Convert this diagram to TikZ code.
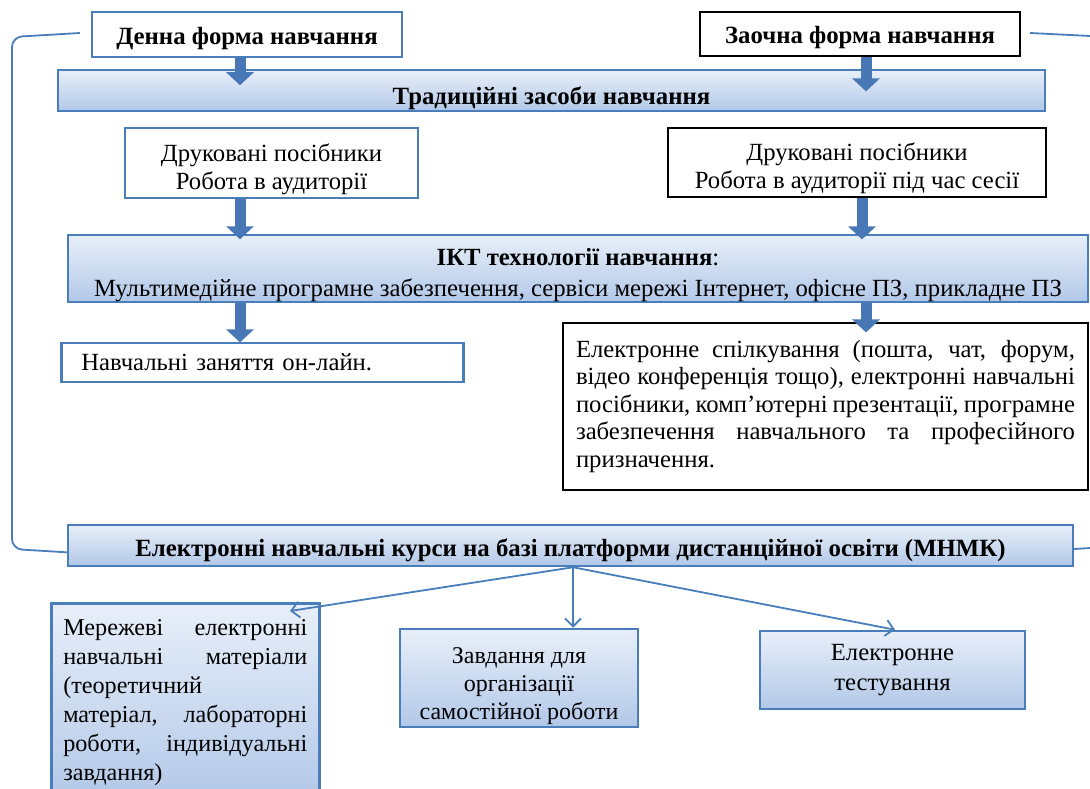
\documentclass[tikz,border=0pt]{standalone}
\usepackage{fontspec}
\setmainfont{Liberation Serif}
\usetikzlibrary{arrows.meta}
\definecolor{boxblue}{HTML}{4A7EBB}
\definecolor{arrowblue}{HTML}{4877B6}
\definecolor{shadetop}{HTML}{E8EFF9}
\definecolor{shadebot}{HTML}{B2C8E8}
\newcommand{\topgap}[1]{\rule{0pt}{#1}}

\begin{document}
\begin{tikzpicture}
  [x=1pt,y=-1pt,font=\fontsize{24.7pt}{28pt}\selectfont]
      \tikzstyle{blue_box} = [draw=boxblue, line width=2.5pt, fill=white, inner sep=0pt, align=center]
      \tikzstyle{black_box} = [draw=black, line width=2.8pt, fill=white, inner sep=0pt, align=center]
      \tikzstyle{shade_box} = [draw=boxblue, line width=2.5pt, top color=shadetop, bottom color=shadebot, inner sep=0pt, align=center]
      \tikzstyle{fat_arrow} = [draw=arrowblue, line width=11pt, -{Triangle[width=27pt,length=13pt]}]
      \tikzstyle{thin_arrow} = [draw=boxblue, line width=1.8pt, -{Straight Barb[length=8pt,width=16pt]}]
      \tikzstyle{side_line} = [draw=boxblue, line width=1.8pt, rounded corners=10pt]
      \tikzstyle{head_font} = [font=\fontsize{24.8pt}{28pt}\selectfont\bfseries]
  \useasboundingbox (0,0) rectangle (1090,789);
  % side lines behind the boxes
  \coordinate (lt) at (80,33);
  \coordinate (lb) at (78,553);
  \coordinate (rt) at (1030,33);
  \coordinate (rt2) at (1090,36);
  \coordinate (rb) at (1028,552);
  \coordinate (rb2) at (1090,548);
  \draw[side_line] (lt) -- (12,37) -- (12,549) -- (lb);
  \draw[side_line] (rt) -- (rt2);
  \draw[side_line] (rb) -- (rb2);
  % forms of study
  \node[blue_box, head_font, minimum width=310pt, minimum height=45pt] (day) at (247,34.5) {\topgap{25pt}Денна форма навчання};
  \node[black_box, head_font, minimum width=320pt, minimum height=44pt] (ext) at (860,34) {\topgap{25pt}Заочна форма навчання};
  \node[shade_box, head_font, minimum width=987pt, minimum height=41pt] (trad) at (551.5,90.5) {\topgap{34pt}Традиційні засоби навчання};
  \node[blue_box, minimum width=293pt, minimum height=70pt] (print1) at (271.5,163) {\topgap{30pt}Друковані посібники\\Робота в аудиторії};
  \node[black_box, minimum width=378pt, minimum height=69pt] (print2) at (857,162.5) {\topgap{30pt}Друковані посібники\\Робота в аудиторії під час сесії};
  \node[shade_box, minimum width=1020pt, minimum height=67pt, font=\fontsize{24.7pt}{31pt}\selectfont] (ikt) at (578,268.5) {\topgap{31pt}\textbf{ІКТ технології навчання}:\\Мультимедійне програмне забезпечення, сервіси мережі Інтернет, офісне ПЗ, прикладне ПЗ};
  \node[blue_box, anchor=west, minimum height=39pt, text width=382pt, inner xsep=10pt, align=left] (online) at (60,362.5) {\hspace{10pt}Навчальні заняття он-лайн.};
  \node[black_box, minimum width=525pt, minimum height=167pt, text width=499pt, align=justify, font=\fontsize{24.7pt}{27.5pt}\selectfont] (elec) at (825.5,406.5) {Електронне спілкування (пошта, чат, форум,\linebreak відео конференція тощо), електронні навчальні\linebreak посібники, комп'ютерні презентації, програмне\linebreak забезпечення навчального та професійного\linebreak призначення.};
  \node[shade_box, head_font, minimum width=1005pt, minimum height=41pt] (course) at (570.5,545.5) {\topgap{28pt}Електронні навчальні курси на базі платформи дистанційної освіти (МНМК)};
  % course parts
  \node[shade_box, anchor=north west, text width=244pt, inner xsep=12pt, inner ysep=16pt, align=left, font=\fontsize{24.2pt}{29pt}\selectfont] (mat) at (50,602) {Мережеві\hfill електронні\\навчальні\hfill матеріали\\(теоретичний\\матеріал,\hfill лабораторні\\роботи,\hfill індивідуальні\\завдання)\\[12pt]};
  \node[shade_box, minimum width=238pt, minimum height=98pt, font=\fontsize{24pt}{28pt}\selectfont] (tasks) at (519,678) {\topgap{33pt}Завдання для\\організації\\самостійної роботи};
  \node[shade_box, minimum width=265pt, minimum height=78pt, font=\fontsize{24.7pt}{30pt}\selectfont] (test) at (892.5,670) {Електронне\\тестування};
  % block arrows
  \draw[fat_arrow] (day.south -| 240,0) -- ++(0,27);
  \draw[fat_arrow] (ext.south -| 866,0) -- ++(0,34);
  \draw[fat_arrow] (print1.south -| 240,0) -- ++(0,40);
  \draw[fat_arrow] (print2.south -| 862,0) -- ++(0,41);
  \draw[fat_arrow] (ikt.south -| 240,0) -- ++(0,39);
  \draw[fat_arrow] (ikt.south -| 866,0) -- ++(0,29);
  % links to course parts
  \coordinate (fork) at (course.south -| 573,0);
  \coordinate (mtip) at (290,611);
  \draw[thin_arrow] (fork) -- (mtip);
  \draw[thin_arrow] (fork) -- (tasks.north -| 573,0);
  \draw[thin_arrow] (fork) -- (test.north -| 895,0);
\end{tikzpicture}
\end{document}
